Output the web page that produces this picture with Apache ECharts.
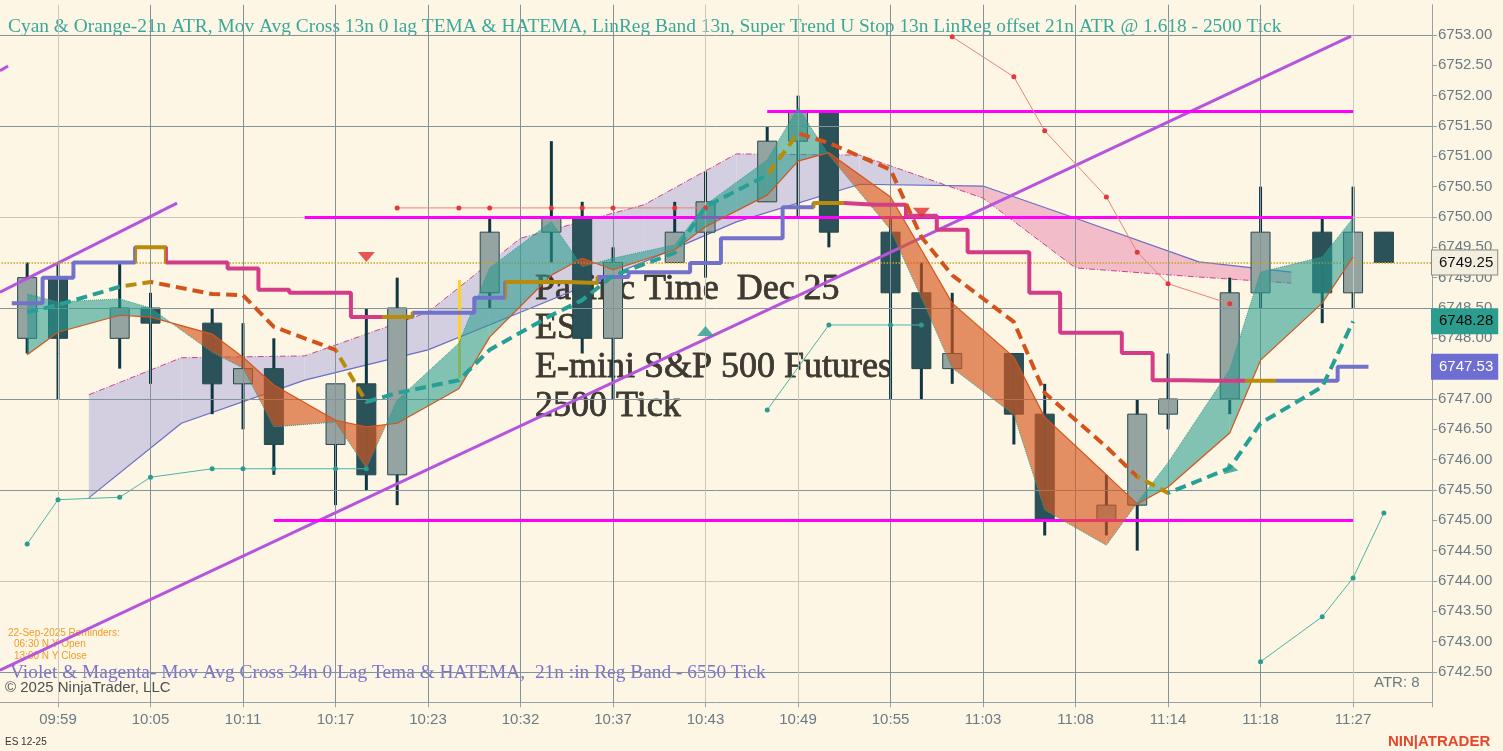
<!DOCTYPE html>
<html><head><meta charset="utf-8">
<script src="https://cdn.jsdelivr.net/npm/echarts@6/dist/echarts.min.js"></script>
<style>html,body{margin:0;padding:0;background:#fdf6e4;}#c{width:1503px;height:751px;}</style>
</head><body><div id="c"></div>
<script>
// ---------------- DATA ----------------
// bar numbers: bar 0 = 09:59 bar; per-bar arrays start at FIRST_BAR
const FIRST_BAR = -1;
const LABEL_STEP = 3;
const timeLabels = ['09:59','10:05','10:11','10:17','10:23','10:32','10:37','10:43','10:49','10:55','11:03','11:08','11:14','11:18','11:27'];

// [bar, open, close, low, high]
const candles = [
  [-1,6748.0,6749.0,6747.75,6749.25],[0,6749.0,6748.0,6747.0,6749.25],[2,6748.0,6748.5,6747.5,6749.25],
  [3,6748.5,6748.25,6747.25,6748.75],[5,6748.25,6747.25,6746.75,6748.5],[6,6747.25,6747.5,6746.5,6748.25],
  [7,6747.5,6746.25,6745.75,6748.0],[9,6746.25,6747.25,6745.25,6747.25],[10,6747.25,6745.75,6745.5,6748.5],
  [11,6745.75,6748.5,6745.25,6749.0],[14,6748.75,6749.75,6748.5,6750.0],[16,6749.75,6750.0,6749.25,6751.25],
  [17,6750.0,6748.0,6747.75,6750.25],[18,6748.0,6749.25,6747.0,6749.5],[20,6749.25,6749.75,6749.25,6750.25],
  [21,6749.75,6750.25,6749.0,6750.75],[23,6750.25,6751.25,6750.25,6751.5],[24,6751.25,6751.75,6750.0,6752.0],
  [25,6751.75,6749.75,6749.5,6751.75],[27,6749.75,6748.75,6747.0,6750.0],[28,6748.75,6747.5,6747.0,6749.25],
  [29,6747.5,6747.75,6747.25,6748.75],[31,6747.75,6746.75,6746.25,6747.75],[32,6746.75,6745.0,6744.75,6747.25],
  [34,6745.0,6745.25,6744.75,6745.75],[35,6745.25,6746.75,6744.5,6747.0],[36,6746.75,6747.0,6746.5,6747.75],
  [38,6747.0,6748.75,6746.75,6749.0],[39,6748.75,6749.75,6748.5,6750.5],[41,6749.75,6748.75,6748.25,6750.0],
  [42,6748.75,6749.75,6748.5,6750.5],[43,6749.75,6749.25,6749.25,6749.75]
];

// Cyan & Orange ribbon (fast TEMA vs slow), per bar from FIRST_BAR
const fastTema = [6748.73,6748.60,null,6748.65,6748.50,null,6747.77,6747.51,6746.54,null,6746.62,6745.86,6746.98,null,6747.92,6749.16,null,6749.92,6749.18,6749.32,null,6749.54,6750.20,null,6750.94,6751.80,6751.02,null,6749.79,6748.67,6747.51,null,6746.74,6745.17,null,6744.59,6745.29,6745.95,null,6747.48,6749.09,null,6749.34,6749.98,null];
const slowTema = [6747.73,6748.10,null,6748.38,6748.35,null,6748.07,6747.69,6747.23,null,6746.65,6746.54,6746.60,null,6747.17,6748.02,null,6749.04,6749.32,6749.13,null,6749.46,6749.84,null,6750.36,6750.92,6751.06,null,6750.33,6749.46,6748.58,null,6747.69,6746.70,null,6745.75,6745.27,6745.55,null,6746.44,6747.64,null,6748.58,6749.34,null];

// dashed HATEMA line and trend state of the segment ending at each bar (1 up, 0 flip, -1 down)
const hatema = [6748.43,6748.55,null,6748.85,6748.93,null,6748.73,6748.71,6748.19,null,6747.81,6746.95,6747.10,null,6747.31,6747.81,null,6748.38,6748.63,6749.03,null,6749.41,6750.17,null,6750.69,6751.38,6751.22,null,6750.78,6749.67,6749.04,null,6748.27,6747.10,null,6746.21,6745.72,6745.45,null,6745.86,6746.60,null,6747.20,6748.28,null];
const hatemaTrend = [1,1,null,1,0,null,-1,-1,-1,null,-1,0,1,null,1,1,null,1,1,1,null,1,1,null,1,0,-1,null,-1,-1,-1,null,-1,-1,null,-1,-1,0,null,1,1,null,1,1,null];

// Super Trend step line and its state
const superTrend = [6748.58,6749.0,6749.25,6749.25,6749.5,6749.25,6749.25,6749.15,6748.8,6748.75,6748.75,6748.35,6748.35,6748.42,6748.42,6748.67,6748.93,6748.93,6748.91,6749.01,6749.09,6749.09,6749.24,6749.65,6749.65,6750.16,6750.23,6750.2,6750.2,6750.02,6749.79,6749.42,6749.42,6748.75,6748.09,6748.09,6747.76,6747.31,6747.3,6747.3,6747.3,6747.3,6747.3,6747.53,null];
const superTrendState = [1,1,1,1,0,-1,-1,-1,-1,-1,-1,-1,0,1,1,1,0,0,0,1,1,1,1,1,1,1,0,-1,-1,-1,-1,-1,-1,-1,-1,-1,-1,-1,-1,-1,0,1,1,1,null];

// LinReg band of the 6550 tick series
const bandBars  = [1,4,8,12,15,19,22,26,30,33,37,40];
const bandUpper = [6747.07,6747.68,6747.71,6748.43,6749.65,6750.2,6751.04,6751.02,6750.31,6749.16,6749.01,6748.91];
const bandLower = [6745.37,6746.6,6747.31,6747.81,6748.43,6749.26,6749.92,6750.54,6750.51,6749.98,6749.26,6749.09];

// stop lines with dots: [bar, price]
const lowerStopRuns = [
  [[-1,6744.61],[0,6745.34],[2,6745.38],[3,6745.71],[5,6745.85],[6,6745.85],[7,6745.85],[9,6745.85],[10,6745.85]],
  [[23,6746.82],[25,6748.22],[27,6748.22],[28,6748.22]],
  [[39,6742.67],[41,6743.41],[42,6744.05],[43,6745.12]]
];
const upperStopRuns = [
  [[11,6750.15],[13,6750.15],[14,6750.15],[16,6750.15],[17,6750.15],[18,6750.15],[20,6750.15],[21,6750.15]],
  [[29,6752.97],[31,6752.31],[32,6751.42],[34,6750.33],[35,6749.42],[36,6748.9],[38,6748.57]]
];

// drawn objects
const levels = [[6751.75,23,42],[6750.0,8,42],[6745.0,7,42]];          // [price, fromBar, toBar]
const trendLines = [
  [[-1.881,6742.53],[41.935,6752.98]],
  [[-1.881,6748.76],[3.86,6750.23]],
  [[-1.881,6752.41],[-1.62,6752.49]]
];
const signalLine = [[13,6748.96],[13,6747.35]];
const downArrows = [[10,6749.34],[28,6750.07]];
const upArrows = [[21,6748.12]];
const crossMarks = [[38,6745.87]];

const gridPrices = [6742.5,6744.0,6745.5,6747.0,6748.5,6750.0,6751.5,6753.0];
const lightGridPrices = [6744.0,6750.0];
const lightGridBars = [0,21,24,42];
const lastPrice = 6749.25, hatemaLast = 6748.28, superTrendLast = 6747.53;

// ---------------- STYLE ----------------
const BG = '#fdf6e4', GRID_DARK = '#84939a', GRID_LIGHT = '#c9c7ba', AXIS = '#98a2a6', AXIS_TXT = '#6b7b85';
const MA_COLORS = {'1':'#26a096','0':'#b88c0a','-1':'#d2541c'};
const ST_COLORS = {'1':'#7272cc','0':'#b88c0a','-1':'#d43c88'};
const X_MIN = -3, X_MAX = 44.56;

const X = i => FIRST_BAR + i;
function pts(arr){ const o=[]; arr.forEach((v,i)=>{ if(v!=null) o.push([X(i),v]); }); return o; }

const ribbonIdx = fastTema.map((v,i)=>(v!=null&&slowTema[i]!=null)?i:-1).filter(i=>i>=0);
const ribbonSegs = [];
for (let k=1;k<ribbonIdx.length;k++){ const a=ribbonIdx[k-1], b=ribbonIdx[k];
  ribbonSegs.push([X(a),fastTema[a],slowTema[a],X(b),fastTema[b],slowTema[b]]); }
const bandSegs = [];
for (let k=1;k<bandBars.length;k++) bandSegs.push([bandBars[k-1],bandUpper[k-1],bandLower[k-1],bandBars[k],bandUpper[k],bandLower[k]]);

function fillBetween(posColor, negColor){
  return function(params, api){
    const x1=api.value(0),a1=api.value(1),b1=api.value(2),x2=api.value(3),a2=api.value(4),b2=api.value(5);
    const d1=a1-b1, d2=a2-b2, P=(x,y)=>api.coord([x,y]), ch=[];
    const poly=(p,f)=>ch.push({type:'polygon',shape:{points:p},style:{fill:f}});
    if (d1*d2>=0){ poly([P(x1,a1),P(x2,a2),P(x2,b2),P(x1,b1)], (d1+d2)>=0?posColor:negColor); }
    else { const t=d1/(d1-d2), xi=x1+t*(x2-x1), yi=a1+t*(a2-a1);
      poly([P(x1,a1),P(xi,yi),P(x1,b1)], d1>0?posColor:negColor);
      poly([P(xi,yi),P(x2,a2),P(x2,b2)], d2>0?posColor:negColor); }
    return {type:'group',children:ch};
  };
}
function candleItem(params, api){
  const x=api.value(0),o=api.value(1),c=api.value(2),l=api.value(3),h=api.value(4);
  const pl=api.coord([x,l]),ph=api.coord([x,h]),po=api.coord([x,o]),pc=api.coord([x,c]);
  const top=Math.min(po[1],pc[1]), bot=Math.max(po[1],pc[1]);
  return {type:'group',children:[
    {type:'line',shape:{x1:pl[0],y1:pl[1],x2:ph[0],y2:ph[1]},style:{stroke:'#0f3742',lineWidth:3}},
    {type:'rect',shape:{x:po[0]-9.5,y:top,width:19,height:Math.max(bot-top,1)},
     style:{fill:c>=o?'#95a3a1':'#2b5159',stroke:'#24474f',lineWidth:1}}
  ]};
}

// visual pieces
const maPts = pts(hatema);
const maStates = hatemaTrend.filter((s,i)=>hatema[i]!=null);
function segPieces(xs, states, colors){
  const p=[];
  for(let i=1;i<xs.length;i++){ const c=colors[String(states[i])], last=p[p.length-1];
    if(last&&last.color===c) last.max=xs[i]; else p.push({min:xs[i-1],max:xs[i],color:c}); }
  p[0].min=-100; p[p.length-1].max=100; return p;
}
const maPieces = segPieces(maPts.map(d=>d[0]), maStates, MA_COLORS);
const stepPts = [], stPieces = [];
superTrend.forEach((v,i)=>{ if(v==null) return;
  stepPts.push([X(i)-0.5,v],[X(i)+0.5,v]);
  const c=ST_COLORS[String(superTrendState[i])], last=stPieces[stPieces.length-1];
  if(last&&last.color===c) last.max=X(i)+0.5; else stPieces.push({min:X(i)-0.5,max:X(i)+0.5,color:c});
});
stPieces[0].min=-100; stPieces[stPieces.length-1].max=100;

// ---------------- SERIES ----------------
const series=[];
function add(s){ series.push(Object.assign({silent:true,animation:false},s)); return series.length-1; }
const ML = {silent:true,symbol:['none','none'],label:{show:false},animation:false};

add({type:'line',data:[],symbol:'none',z:1,markLine:Object.assign({},ML,{data:[
  ...gridPrices.map(p=>({yAxis:p,lineStyle:{color:lightGridPrices.includes(p)?GRID_LIGHT:GRID_DARK,width:1,type:'solid'}})),
  ...timeLabels.map((t,k)=>({xAxis:k*LABEL_STEP,lineStyle:{color:lightGridBars.includes(k*LABEL_STEP)?GRID_LIGHT:GRID_DARK,width:1,type:'solid'}}))
]})});
add({type:'custom',renderItem:fillBetween('#d3cfe0','#f2bdc9'),data:bandSegs,encode:{x:[0,3],y:[1,2,4,5]},z:2});
add({type:'line',data:bandBars.map((b,i)=>[b,bandUpper[i]]),symbol:'none',z:3,lineStyle:{color:'#d2408c',width:1,type:[6,2,1,2]}});
add({type:'line',data:bandBars.map((b,i)=>[b,bandLower[i]]),symbol:'none',z:3,lineStyle:{color:'#6c6cc8',width:1.2}});
add({type:'custom',renderItem:candleItem,data:candles,encode:{x:0,y:[1,2,3,4]},z:4});
add({type:'custom',renderItem:fillBetween('rgba(42,157,143,0.58)','rgba(214,88,32,0.66)'),data:ribbonSegs,encode:{x:[0,3],y:[1,2,4,5]},z:5});
add({type:'line',data:pts(slowTema),symbol:'none',z:6,lineStyle:{color:'#d4541c',width:1.2}});
add({type:'line',data:pts(fastTema),symbol:'none',z:6,lineStyle:{color:'#2a9d8f',width:1,type:'dotted'}});
add({type:'line',data:[],symbol:'none',z:7,markLine:Object.assign({},ML,{data:[
  ...trendLines.map(t=>[{coord:t[0],lineStyle:{color:'#b455dc',width:3,type:'solid'}},{coord:t[1]}]),
  ...levels.map(l=>[{coord:[l[1],l[0]],lineStyle:{color:'#ff00ff',width:3,type:'solid'}},{coord:[l[2],l[0]]}]),
  [{coord:signalLine[0],lineStyle:{color:'#ffd21f',width:3,type:'solid'}},{coord:signalLine[1]}]
]})});
lowerStopRuns.forEach(r=>add({type:'line',data:r,symbol:'circle',symbolSize:5,z:8,
  itemStyle:{color:'#2a9d8f'},lineStyle:{color:'#4fb3a5',width:1}}));
upperStopRuns.forEach(r=>add({type:'line',data:r,symbol:'circle',symbolSize:5,z:8,
  itemStyle:{color:'#e0393b'},lineStyle:{color:'#e8837a',width:1}}));
const idxStep = add({type:'line',data:stepPts,symbol:'none',z:9,lineStyle:{width:4}});
const idxMa = add({type:'line',data:maPts,symbol:'none',z:9,lineStyle:{width:4,type:[11,6]}});
add({type:'scatter',data:downArrows,symbol:'triangle',symbolRotate:180,symbolSize:[17,10],z:10,itemStyle:{color:'#e02e2e'}});
add({type:'scatter',data:upArrows,symbol:'triangle',symbolSize:[17,10],z:10,itemStyle:{color:'#2a9d8f'}});
add({type:'scatter',data:crossMarks,symbol:'triangle',symbolRotate:15,symbolSize:[15,10],z:10,itemStyle:{color:'#2a9d8f'}});
const lbl=(txt,bg,fg,border)=>({show:true,position:'end',formatter:txt,distance:0,color:fg,backgroundColor:bg,
  borderColor:border||bg,borderWidth:1,padding:[5,4,4,7],fontSize:15,fontFamily:'"Liberation Sans",Arial'});
add({type:'line',data:[],symbol:'none',z:11,clip:false,markLine:{silent:true,symbol:['none','none'],animation:false,data:[
  {yAxis:lastPrice,lineStyle:{color:'#c9a227',width:1.5,type:'dotted'},label:lbl(lastPrice.toFixed(2),'#f3eee0','#111','#8a8a80')},
  {yAxis:hatemaLast,lineStyle:{color:'rgba(0,0,0,0)',width:0},label:lbl(hatemaLast.toFixed(2),'#2a9d8f','#0a0a0a')},
  {yAxis:superTrendLast,lineStyle:{color:'rgba(0,0,0,0)',width:0},label:lbl(superTrendLast.toFixed(2),'#6e6ed2','#ffffff')}
]}});

// ---------------- TEXT ----------------
const SERIF='"Liberation Serif","Times New Roman",serif', SANS='"Liberation Sans",Arial,sans-serif';
function txt(x,y,text,font,fill,z,stroke){ const st={text:text,font:font,fill:fill,verticalAlign:'middle',textVerticalAlign:'middle'};
  if(stroke){ st.stroke=fill; st.lineWidth=stroke; }
  return {type:'text',x:x,y:y,z:z,silent:true,style:st}; }
const BIG='36px '+SERIF, BIGC='#3d3933';
const graphic=[
  txt(8,27,'Cyan & Orange-21n ATR, Mov Avg Cross 13n 0 lag TEMA & HATEMA, LinReg Band 13n, Super Trend U Stop 13n LinReg offset 21n ATR @ 1.618 - 2500 Tick','19.4px '+SERIF,'#3aa89b',3),
  txt(535,290,'Pacific Time  Dec 25',BIG,BIGC,3,0.8),
  txt(535,329,'ES',BIG,BIGC,3,0.8),
  txt(535,368,'E-mini S&P 500 Futures',BIG,BIGC,3,0.8),
  txt(535,407,'2500 Tick',BIG,BIGC,3,0.8),
  txt(8,633,'22-Sep-2025 Reminders:','10px '+SANS,'#f29b25',3),
  txt(14,644,'06:30 N Y Open','10px '+SANS,'#f29b25',3),
  txt(14,656,'13:00 N Y Close','10px '+SANS,'#f29b25',3),
  txt(10,673,'Violet & Magenta- Mov Avg Cross 34n 0 Lag Tema & HATEMA,  21n :in Reg Band - 6550 Tick','19.4px '+SERIF,'#7a72cc',3),
  txt(5,688,'\u00a9 2025 NinjaTrader, LLC','15px '+SANS,'#505050',100),
  txt(1374,683,'ATR: 8','15px '+SANS,AXIS_TXT,100),
  txt(5,742,'ES 12-25','10px '+SANS,'#333333',100),
  txt(1388,742,'NIN|ATRADER','bold 15px '+SANS,'#e5472c',100)
];

const option={
  backgroundColor:BG, animation:false,
  grid:{left:-34.5,right:71,top:4.67,bottom:48.7,outerBoundsMode:'none',containLabel:false},
  xAxis:{type:'value',min:X_MIN,max:X_MAX,interval:LABEL_STEP,
    axisLine:{show:true,onZero:false,lineStyle:{color:AXIS}},
    axisTick:{show:true,length:5,lineStyle:{color:AXIS}},
    axisLabel:{margin:10,color:AXIS_TXT,fontSize:15,fontFamily:SANS,
      formatter:v=>{const k=v/LABEL_STEP; return (Number.isInteger(k)&&k>=0&&k<timeLabels.length)?timeLabels[k]:'';}},
    splitLine:{show:false}},
  yAxis:{type:'value',position:'right',min:6742,max:6753.5,interval:0.5,
    axisLine:{show:true,onZero:false,lineStyle:{color:AXIS}},
    axisTick:{show:true,length:5,lineStyle:{color:AXIS}},
    axisLabel:{margin:6,color:AXIS_TXT,fontSize:15,fontFamily:SANS,showMinLabel:false,showMaxLabel:false,formatter:v=>v.toFixed(2)},
    splitLine:{show:false}},
  visualMap:[
    {type:'piecewise',show:false,dimension:0,seriesIndex:idxStep,pieces:stPieces},
    {type:'piecewise',show:false,dimension:0,seriesIndex:idxMa,pieces:maPieces}
  ],
  series:series,
  graphic:graphic
};
const chart=echarts.init(document.getElementById('c'),null,{renderer:'canvas',width:1503,height:751});
chart.setOption(option);
</script></body></html>
